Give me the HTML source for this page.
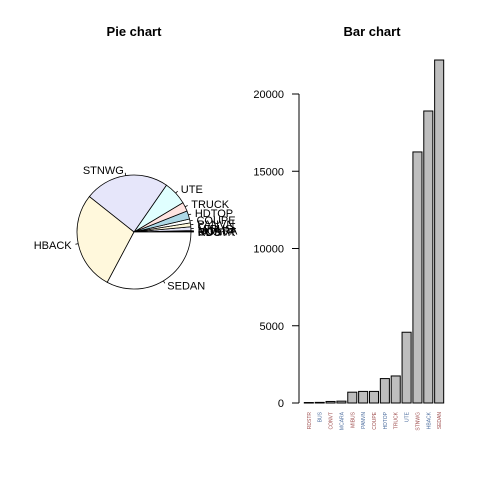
<!DOCTYPE html>
<html><head><meta charset="utf-8"><style>body{margin:0;background:#fff}svg{display:block;font-family:"Liberation Sans",sans-serif}</style></head><body>
<svg id="c" width="480" height="480" viewBox="0 0 480 480">
<rect width="480" height="480" fill="#fff"/>
<text x="134" y="36" text-anchor="middle" font-size="13" font-weight="bold">Pie chart</text>
<text x="372" y="36" text-anchor="middle" font-size="13" font-weight="bold">Bar chart</text>
<g id="pie"></g>
<g id="bars"></g>
</svg>
<script>
const categories=["RDSTR","BUS","CONVT","MCARA","MIBUS","PANVN","COUPE","HDTOP","TRUCK","UTE","STNWG","HBACK","SEDAN"];
const values=[30,40,100,120,700,750,750,1580,1750,4580,16250,18900,22200];
const yTicks=[0,5000,10000,15000,20000];
const pieColors=["#FFFFFF","#ADD8E6","#FFE4E1","#E0FFFF","#E6E6FA","#FFF8DC"];
const NS="http://www.w3.org/2000/svg";
function mk(t,a,p){const e=document.createElementNS(NS,t);for(const k in a)e.setAttribute(k,a[k]);p.appendChild(e);return e;}
// pie
const pie=document.getElementById('pie');
const cx=134,cy=232,r=57;
const total=values.reduce((a,b)=>a+b,0);
let acc=0;
values.forEach((v,i)=>{
 const a0=acc/total*2*Math.PI;acc+=v;const a1=acc/total*2*Math.PI;
 const x0=cx+r*Math.cos(a0),y0=cy-r*Math.sin(a0),x1=cx+r*Math.cos(a1),y1=cy-r*Math.sin(a1);
 const large=(a1-a0)>Math.PI?1:0;
 const p=mk('path',{d:`M${cx},${cy}L${x0},${y0}A${r},${r} 0 ${large} 0 ${x1},${y1}Z`,fill:pieColors[i%6],stroke:'#000','stroke-width':0.8},pie);
 
 
 const m=(a0+a1)/2,c=Math.cos(m),s=Math.sin(m);
 mk('line',{x1:cx+r*c,y1:cy-r*s,x2:cx+r*1.05*c,y2:cy-r*1.05*s,stroke:'#000','stroke-width':0.8},pie);
 const t=mk('text',{x:cx+r*1.1*c+(c>=0?1:-1),y:cy-r*1.1*s+4,'font-size':11,'text-anchor':c>=0?'start':'end',fill:'#000'},pie);
 t.textContent=categories[i];
 
 
});
// bars
const g=document.getElementById('bars');
const y0=403,y1=94,vmax=20000;
const ys=v=>y0-(v/vmax)*(y0-y1);
const left=302.5,right=445.5,n=categories.length;
const unit=(right-left)/(n*1.2+0.2);
mk('line',{x1:299,y1:ys(0),x2:299,y2:ys(20000),stroke:'#000'},g);
yTicks.forEach(t=>{
 mk('line',{x1:292,y1:ys(t),x2:299,y2:ys(t),stroke:'#000'},g);
 const tx=mk('text',{x:284,y:ys(t)+4,'font-size':11,'text-anchor':'end'},g);tx.textContent=t;
 
 
});
values.forEach((v,i)=>{
 const x=left+unit*(0.2+i*1.2);
 const b=mk('rect',{x:x,y:ys(v),width:unit,height:Math.max(ys(0)-ys(v),0.5),fill:'#BEBEBE',stroke:'#000','stroke-width':1},g);
 
 
 const lx=x+unit/2+2,ly=412;
 const t=mk('text',{x:lx,y:ly,'font-size':5,'text-anchor':'end',transform:`rotate(-90 ${lx} ${ly})`,fill:i%2?'#5070a0':'#a05050'},g);
 t.textContent=categories[i];
 
 
});
</script>
</body></html>
